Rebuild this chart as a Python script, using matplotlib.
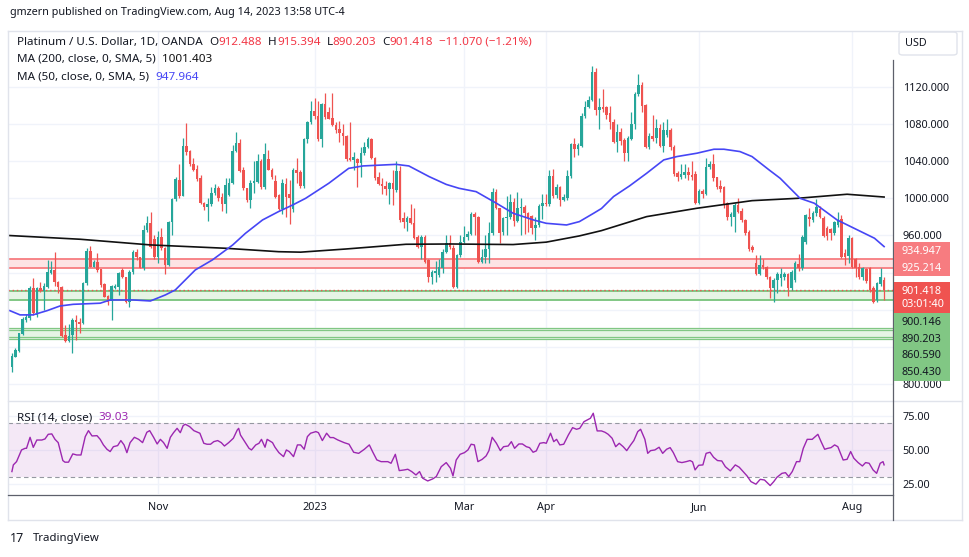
import matplotlib
matplotlib.use("Agg")
import matplotlib.pyplot as plt
from matplotlib.patches import Rectangle, FancyBboxPatch
from matplotlib.lines import Line2D
from matplotlib.ticker import FuncFormatter
import numpy as np
import pandas as pd

plt.rcParams['font.family'] = ['Noto Sans', 'DejaVu Sans']

W, H = 970, 557

# daily candles, XPT/USD (OANDA)
opens = [818.0, 829.5, 835.9, 853.9, 869.0, 870.8, 903.1, 874.4, 903.1, 900.2,
         904.9, 920.0, 922.8, 910.3, 904.2, 852.8, 846.7, 852.8, 869.0, 867.2,
         865.4, 908.5, 943.3, 926.4, 931.8, 923.5, 907.8, 894.8, 889.4, 903.8,
         904.9, 922.8, 914.9, 888.7, 921.0, 942.6, 936.5, 924.6,
         965.9, 973.0, 955.8, 937.2, 958.7, 946.2, 928.2, 974.9, 999.3, 1020.0,
         1003.0, 1056.8, 1051.0, 1036.6, 1031.6, 1022.3, 995.3, 991.0, 993.6, 1005.4,
         1010.8, 1001.0, 993.9, 1004.0, 1016.2, 1051.4, 1060.0, 1031.0, 1010.8, 998.2,
         1016.0, 1018.0, 1040.2, 1011.9, 1042.0, 1031.0, 1019.0, 1003.6, 988.2, 1015.5, 1005.0, 988.0,
         1030.5, 1028.0, 1013.3, 1063.6, 1081.9, 1094.1, 1088.7, 1063.6, 1101.6, 1093.0,
         1087.0, 1079.0, 1074.3, 1070.7, 1067.1, 1043.0, 1041.3,
         1042.0, 1037.7, 1048.5, 1055.7, 1063.6, 1043.1, 1022.6, 1015.5, 1013.3,
         1010.0, 1016.2, 1009.0, 1029.8, 978.5, 974.9, 979.2, 973.8, 958.7, 947.9,
         958.7, 933.6, 915.6, 920.0, 917.4, 924.6, 942.6, 951.6,
         946.2, 904.9, 939.0, 953.4, 958.8, 962.0, 983.2, 979.6, 931.8, 937.2,
         945.1, 962.3, 1007.2, 989.3, 964.0, 978.4, 980.3, 996.5, 976.0, 989.3,
         991.0, 984.6, 981.0, 967.7, 971.3, 992.0, 995.4, 994.0, 1024.1, 1003.6,
         1012.6, 998.2, 1000.0, 1024.1, 1058.6, 1052.9, 1056.5, 1088.8, 1098.8, 1106.0, 1136.5,
         1095.2, 1098.8, 1098.0, 1091.6, 1082.7, 1061.1, 1071.9, 1063.0, 1049.3, 1064.0,
         1080.2, 1112.5, 1122.2, 1100.6, 1055.0, 1067.2, 1064.7, 1075.5, 1056.4, 1068.0,
         1073.7, 1055.0, 1027.7, 1023.4, 1025.0, 1028.8,
         1025.0, 1026.3, 995.4, 1008.3, 1005.0, 1033.5, 1037.0, 1022.7, 1013.0, 1012.6,
         994.7, 979.6, 979.6, 992.5, 986.8, 976.7, 964.0,
         948.0, 930.0, 918.6, 928.2, 926.4, 915.0, 903.1, 912.1, 914.0, 915.0,
         918.6, 903.1, 912.0, 929.3, 924.6, 953.0, 980.3, 976.7, 983.9, 988.2,
         978.5, 967.7, 966.6, 963.0, 971.0, 977.5, 940.8, 938.0, 957.0, 935.0,
         925.7, 915.6, 923.5, 924.6, 903.1, 890.5, 907.8, 912.488]

highs = [833.1, 838.4, 855.3, 872.6, 875.0, 905.0, 913.9, 904.9, 910.0, 908.5,
         933.6, 933.0, 942.6, 911.0, 905.0, 863.6, 864.6, 870.8, 874.4, 870.8,
         910.3, 946.2, 948.7, 933.6, 940.8, 924.2, 908.5, 895.9, 906.7, 908.0,
         921.0, 924.6, 915.6, 922.8, 944.4, 945.1, 937.2, 971.3,
         981.0, 985.0, 960.0, 965.0, 968.0, 948.0, 976.0, 1000.0, 1022.6, 1037.0,
         1065.0, 1081.0, 1052.0, 1043.0, 1036.0, 1025.0, 996.0, 1000.0, 1012.0, 1015.0,
         1013.0, 1006.0, 1022.0, 1022.0, 1057.0, 1071.6, 1064.0, 1034.0, 1011.0, 1020.0,
         1040.0, 1048.0, 1042.0, 1060.0, 1052.0, 1033.0, 1025.0, 1005.0, 1021.0, 1022.0, 1020.0, 1033.0,
         1043.0, 1030.0, 1065.0, 1083.0, 1105.0, 1108.0, 1105.0, 1103.0, 1113.0, 1098.0,
         1113.0, 1082.0, 1083.0, 1080.0, 1068.0, 1082.0, 1050.0,
         1043.0, 1055.0, 1061.0, 1066.0, 1065.0, 1044.0, 1028.0, 1022.0, 1019.0,
         1018.0, 1030.0, 1040.0, 1035.0, 985.0, 981.0, 994.0, 990.0, 960.0, 961.0,
         960.0, 935.0, 923.0, 932.0, 935.0, 945.0, 961.0, 961.0,
         950.0, 940.0, 960.0, 970.0, 965.0, 985.0, 985.0, 981.0, 945.0, 960.0,
         975.0, 1011.0, 1010.0, 990.0, 980.0, 1002.0, 1005.0, 1000.0, 1007.0, 1000.0,
         993.0, 985.0, 982.0, 980.0, 994.0, 1005.0, 1005.0, 1030.0, 1032.0, 1015.0,
         1013.0, 1005.0, 1030.0, 1060.0, 1065.0, 1060.0, 1092.0, 1105.0, 1110.0, 1143.0, 1140.0,
         1108.0, 1118.0, 1100.0, 1100.0, 1085.0, 1080.0, 1076.0, 1065.0, 1067.0, 1093.0,
         1115.0, 1134.0, 1125.0, 1102.0, 1070.0, 1090.0, 1085.0, 1080.0, 1082.0, 1085.0,
         1076.0, 1057.0, 1029.0, 1037.0, 1037.0, 1034.0,
         1040.0, 1029.0, 1010.0, 1010.0, 1043.0, 1040.0, 1048.0, 1023.0, 1020.0, 1013.0,
         996.0, 985.0, 995.0, 1000.0, 990.0, 978.0, 966.0,
         950.0, 939.0, 939.0, 935.0, 927.0, 916.0, 914.0, 921.0, 925.0, 921.0,
         920.0, 923.0, 932.0, 940.0, 960.0, 983.0, 990.0, 986.0, 999.0, 992.0,
         981.0, 970.0, 968.0, 976.0, 985.0, 982.0, 945.0, 960.0, 958.0, 936.0,
         930.0, 926.0, 925.0, 926.0, 905.0, 910.0, 925.0, 915.394]

lows = [813.3, 828.7, 834.9, 852.8, 867.0, 869.0, 874.4, 872.0, 899.5, 879.7,
        903.1, 919.0, 906.0, 897.7, 851.0, 845.6, 845.0, 833.8, 847.4, 855.0,
        865.0, 907.0, 926.0, 926.0, 921.0, 904.9, 893.4, 885.1, 869.0, 902.0,
        895.9, 913.9, 887.0, 882.6, 919.0, 933.6, 924.6, 923.0,
        964.0, 946.0, 935.0, 930.0, 944.0, 919.0, 927.0, 960.0, 997.0, 1000.0,
        1002.0, 1047.0, 1035.0, 1029.0, 1019.0, 994.0, 987.0, 976.0, 992.0, 1004.0,
        997.0, 986.0, 984.0, 1003.0, 1015.0, 1050.0, 1028.0, 1009.0, 996.0, 990.0,
        1006.0, 1017.0, 1010.0, 1010.0, 1030.0, 1021.0, 1000.0, 987.0, 983.0, 980.0, 972.0, 985.0,
        1016.0, 1011.0, 1011.0, 1060.0, 1080.0, 1086.0, 1062.0, 1055.0, 1086.0, 1085.0,
        1078.0, 1070.0, 1061.0, 1058.0, 1040.0, 1040.0, 1030.0,
        1012.4, 1023.0, 1047.0, 1054.0, 1042.0, 1020.0, 1014.0, 1005.0, 1004.0,
        994.0, 993.0, 1007.0, 975.0, 968.0, 965.0, 972.0, 956.0, 946.0, 935.0,
        930.0, 910.0, 908.0, 910.0, 915.0, 920.0, 941.0, 945.0,
        903.0, 903.0, 937.0, 952.0, 955.0, 960.0, 960.0, 930.0, 930.0, 930.0,
        930.0, 960.0, 988.0, 952.0, 961.0, 960.0, 978.0, 970.0, 974.0, 960.0,
        962.0, 964.0, 962.0, 955.0, 969.0, 978.0, 992.0, 992.0, 1000.0, 1000.0,
        992.0, 997.0, 998.0, 1022.0, 1045.0, 1047.0, 1055.0, 1087.0, 1097.0, 1105.0, 1090.0,
        1075.0, 1093.0, 1085.0, 1075.0, 1060.0, 1050.0, 1058.0, 1040.0, 1040.0, 1063.0,
        1075.0, 1110.0, 1093.0, 1054.0, 1053.0, 1062.0, 1060.0, 1055.0, 1050.0, 1066.0,
        1052.0, 1024.0, 1019.0, 1021.0, 1022.0, 1020.0,
        1020.0, 994.0, 994.0, 1000.0, 1004.0, 1032.0, 1019.0, 1010.0, 1007.0, 990.0,
        977.0, 970.0, 964.0, 984.0, 975.0, 961.0, 943.0,
        942.0, 917.0, 917.0, 924.0, 913.0, 893.0, 888.0, 898.0, 905.0, 912.0,
        895.0, 901.0, 910.0, 922.0, 923.0, 951.0, 970.0, 975.0, 981.0, 979.0,
        958.0, 955.0, 955.0, 961.0, 969.0, 936.0, 928.0, 930.0, 925.0, 915.0,
        913.0, 912.0, 909.0, 899.0, 887.0, 888.0, 906.0, 890.203]

closes = [830.2, 836.7, 854.6, 870.0, 872.6, 903.1, 876.1, 903.1, 900.2, 905.6,
          921.0, 922.8, 910.3, 904.2, 852.1, 846.7, 852.0, 869.0, 867.2, 864.6,
          908.5, 943.3, 926.4, 931.1, 922.8, 906.7, 894.1, 888.7, 905.6, 905.6,
          919.2, 914.9, 888.0, 921.0, 942.6, 936.5, 925.3, 965.9,
          973.0, 947.9, 937.2, 958.7, 946.2, 928.2, 974.9, 999.3, 1020.8, 1003.0,
          1056.8, 1050.3, 1036.6, 1030.5, 1020.8, 995.3, 991.0, 993.6, 1005.4, 1011.5,
          1000.0, 993.9, 1014.4, 1016.2, 1051.4, 1060.0, 1029.8, 1010.8, 998.2, 1016.2,
          1019.0, 1040.2, 1011.9, 1047.8, 1031.0, 1023.4, 1001.8, 988.2, 1016.2, 1001.8, 1000.0, 1030.5,
          1027.0, 1013.3, 1063.6, 1081.9, 1094.1, 1088.7, 1063.6, 1101.6, 1087.3, 1086.0,
          1079.0, 1073.6, 1070.0, 1067.0, 1042.0, 1041.3, 1044.0,
          1037.7, 1048.5, 1055.7, 1063.6, 1043.1, 1021.6, 1015.5, 1013.3, 1010.0,
          1016.2, 1009.7, 1029.8, 976.7, 974.9, 979.2, 973.8, 957.6, 947.9, 958.7,
          931.8, 915.6, 921.0, 921.7, 926.4, 942.6, 951.6, 948.0,
          904.9, 939.0, 953.4, 958.8, 962.0, 983.2, 979.6, 931.8, 937.2, 945.1,
          962.3, 1007.2, 989.3, 962.3, 978.4, 980.3, 996.5, 976.0, 989.3, 991.0,
          984.6, 978.5, 967.7, 971.3, 992.2, 995.4, 994.0, 1024.1, 1002.6, 1012.6,
          998.2, 1001.8, 1024.1, 1058.6, 1052.9, 1057.5, 1088.8, 1098.8, 1106.0, 1136.5, 1095.2,
          1098.8, 1096.0, 1090.0, 1082.7, 1061.1, 1071.9, 1061.8, 1049.3, 1064.7, 1080.2,
          1112.5, 1122.2, 1099.5, 1055.0, 1067.2, 1064.3, 1075.5, 1056.4, 1073.7, 1073.7,
          1055.0, 1026.3, 1022.7, 1026.0, 1028.8, 1025.0,
          1022.7, 995.4, 1008.3, 1004.7, 1033.5, 1037.0, 1021.6, 1012.6, 1009.7, 992.9,
          979.6, 983.0, 992.5, 985.7, 976.7, 963.0, 945.0,
          944.4, 918.6, 928.2, 925.8, 915.0, 903.1, 912.1, 918.6, 919.0, 918.6,
          903.1, 921.0, 930.0, 924.6, 958.7, 982.1, 977.5, 983.9, 990.4, 980.3,
          959.5, 959.5, 963.0, 974.9, 976.7, 937.2, 936.5, 957.0, 926.4, 924.6,
          915.0, 924.6, 911.4, 901.3, 888.7, 908.5, 914.9, 901.418]

# moving averages, sampled along the chart (x = candle number)
ma200_pos = [-1.1, 19.2, 38.9, 60.0, 74.9, 81.1, 93.8, 110.7, 123.4, 140.8,
             150.1, 159.4, 165.6, 178.3, 192.4, 207.9, 220.6, 234.6, 245]
ma200_val = [960.0, 955.9, 949.8, 946.2, 942.5, 942.0, 945.4, 950.5, 950.8, 950.2,
             952.8, 959.5, 965.2, 980.3, 989.3, 997.5, 1000.0, 1004.4, 1001.4]

ma50_pos = [-0.6, 2.3, 5.9, 9.9, 13.5, 17.2, 24.8, 27.6, 34.1, 38.9,
            43.1, 45.9, 51.5, 56.3, 62.0, 65.6, 70.4, 74.9, 78.9, 82.5,
            89.0, 94.6, 98.6, 107.9, 111.5, 117.2, 122.0, 125.6, 130.4, 136.1,
            140.8, 146.5, 150.1, 155.8, 159.4, 163.4, 165.6, 169.0, 173.5, 178.3,
            183.1, 186.8, 192.4, 197.2, 200.0, 204.5, 207.9, 212.7, 215.8, 221.4,
            225.4, 231.8, 237.5, 242.3, 245]
ma50_val = [879, 874.4, 874.4, 879, 884, 885.8, 887, 890.5, 890.5, 889.4,
            895.9, 901.3, 922.8, 933.6, 949.7, 962.3, 976.7, 985.7, 992.9, 1000,
            1016.2, 1032.3, 1034.9, 1036.6, 1034.9, 1023.4, 1015, 1010.8, 1007.2, 994.7,
            983.9, 976.7, 973.1, 971.3, 974.9, 983.9, 989, 1001.9, 1013.4, 1027,
            1041.4, 1045, 1048.6, 1052.9, 1052.9, 1050.4, 1045, 1030.6, 1021.6, 1000,
            994.7, 976.7, 966, 957, 948.0]

# RSI(14)
rsi_pos = [0, 0.4, 1.3, 2.7, 3.7, 4.1, 5.1, 6.0, 7.0, 8.4, 9.3, 10.2, 11.2, 12.1, 13.0,
           14.3, 14.9, 15.9, 17.1, 18.2, 19.4, 20.6, 21.5, 22.5, 23.9, 24.8, 25.7, 26.7,
           27.6, 28.5, 29.7, 30.6, 31.5, 32.3, 33.2, 34.4, 35.6, 36.7, 37.9, 38.7, 39.8,
           40.8, 41.7, 42.6, 43.6, 44.5, 45.4, 46.4, 47.3, 48.1, 48.7, 49.9, 51.1, 52.8,
           53.9, 54.8, 55.8, 56.7, 57.8, 58.8, 59.7, 60.9, 62.2, 63.3, 63.7, 64.2, 65.4,
           66.6, 67.3, 68.5, 69.4, 70.1, 71.1, 71.7, 73.2, 73.9, 75.0, 76.3, 77.1, 77.9,
           79.1, 80.2, 81.1, 82.1, 83.0, 83.9, 85.4, 86.1, 87.2, 88.4, 89.4, 90.3, 91.5,
           93.3, 94.7, 96.0, 97.4, 99.0, 100.4, 101.3, 102.5, 103.7, 105.6, 106.5, 107.7,
           108.8, 110.2, 111.2, 112.3, 113.5, 114.5, 115.4, 116.8, 118.2, 119.2, 120.6,
           122.0, 123.2, 123.9, 124.8, 125.9, 127.1, 128.1, 129.0, 129.9, 130.9, 132.1,
           133.2, 134.0, 134.9, 136.1, 137.2, 138.1, 139.4, 140.3, 141.2, 142.4, 143.4,
           144.5, 145.4, 146.4, 147.3, 148.3, 149.4, 150.1, 151.3, 152.2, 153.0, 153.9,
           155.0, 156.3, 157.5, 158.6, 159.5, 160.7, 161.9, 162.5, 163.3, 164.4, 165.6,
           166.6, 167.5, 168.6, 169.6, 170.6, 171.7, 172.7, 173.8, 174.7, 175.8, 176.6,
           177.8, 178.6, 179.4, 180.6, 181.8, 182.8, 183.9, 184.9, 185.8, 187.0, 188.2,
           189.4, 190.5, 191.2, 191.9, 192.9, 194.1, 195.0, 196.1, 197.1, 198.2, 199.4,
           200.4, 201.8, 203.2, 204.3, 205.4, 206.5, 207.6, 209.0, 210.2, 211.4, 213.0,
           214.0, 214.9, 216.3, 217.3, 218.2, 219.2, 220.4, 221.3, 222.3, 223.4, 224.8,
           226.4, 227.3, 228.3, 229.2, 230.1, 231.1, 232.0, 233.5, 234.6, 235.6, 236.5,
           237.7, 238.9, 239.8, 240.8, 241.9, 242.9, 243.9, 244.7, 245.0]
rsi_val = [34.1, 39.0, 41.4, 50.0, 51.2, 51.2, 59.3, 51.9, 57.3, 57.3, 58.1, 61.5, 61.8, 57.8, 55.4,
           42.2, 41.0, 41.0, 47.1, 46.3, 46.3, 59.8, 64.2, 60.3, 60.5, 57.8, 53.7, 50.5,
           48.8, 52.4, 53.2, 56.9, 53.7, 48.0, 55.4, 59.3, 57.8, 55.4, 63.0, 64.2, 59.3,
           54.4, 57.8, 55.4, 51.2, 59.3, 62.7, 65.9, 62.7, 67.9, 68.9, 67.2, 64.2, 62.3,
           54.9, 54.2, 54.2, 56.1, 56.9, 55.4, 52.9, 55.4, 58.6, 64.7, 65.9, 61.0, 56.1,
           51.2, 50.0, 53.7, 54.9, 57.8, 52.0, 57.8, 55.4, 52.0, 48.0, 45.1, 50.0, 48.8,
           45.1, 53.7, 53.7, 50.5, 59.8, 62.3, 63.5, 62.7, 56.9, 62.3, 59.1, 59.1, 57.4,
           55.4, 54.2, 48.3, 47.5, 50.5, 53.7, 48.8, 42.7, 41.4, 41.4, 40.2, 46.8,
           34.8, 35.3, 35.8, 34.1, 31.6, 34.1, 29.2, 27.2, 28.7, 30.4, 37.7,
           40.7, 36.5, 30.9, 42.6, 46.8, 48.0, 50.0, 54.2, 53.7, 41.4, 43.1,
           45.6, 49.5, 59.3, 54.9, 49.5, 52.4, 52.9, 56.1, 51.2, 54.4, 54.4,
           52.4, 51.7, 48.3, 49.3, 54.9, 55.4, 54.9, 62.3, 56.1, 57.8, 53.7,
           54.2, 61.0, 66.4, 65.2, 65.9, 70.8, 72.5, 73.3, 77.0, 64.0, 64.0,
           63.0, 61.5, 58.6, 52.4, 54.9, 52.4, 49.5, 53.7, 56.9, 63.5, 65.2,
           57.8, 47.5, 49.5, 50.0, 52.0, 47.5, 50.5, 51.7, 48.0, 41.4, 40.7,
           41.4, 42.2, 41.2, 35.3, 38.7, 39.0, 47.5, 48.3, 44.6, 42.2, 41.9,
           37.7, 34.6, 39.0, 37.3, 34.1, 30.9, 26.7, 24.8, 28.4, 27.9, 23.8,
           26.7, 29.9, 32.8, 33.3, 30.4, 34.1, 41.4, 41.4, 51.2, 57.8, 57.8,
           61.5, 56.1, 50.5, 51.2, 51.7, 53.7, 52.4, 42.6, 43.1, 48.8, 43.9,
           40.7, 38.2, 40.7, 40.2, 35.3, 32.8, 40.2, 41.4, 39.03]

# horizontal zones / levels drawn on the chart
red_zone = [925.214, 934.947]
green_zone = [890.203, 900.146]
green_zone_low = [850.430, 860.590]
green_zone_low2 = [848.5, 858.2]
last_price = 901.418

# price scale labels hidden behind the level tags on the axis
hidden_ticks = [840, 880, 920]

tick_months = ["2022-11", "2023-01", "2023-03", "2023-04", "2023-06", "2023-08"]
tick_labels = ["Nov", "2023", "Mar", "Apr", "Jun", "Aug"]

n = len(closes)
assert len(opens) == n and len(highs) == n and len(lows) == n, (len(opens), len(highs), len(lows), n)
assert len(rsi_pos) == len(rsi_val), (len(rsi_pos), len(rsi_val))
assert len(ma50_pos) == len(ma50_val) and len(ma200_pos) == len(ma200_val)

dates = pd.bdate_range(end="2023-08-14", periods=n)
month_idx = [int(np.argmax(dates >= pd.Timestamp(m + "-01"))) for m in tick_months]

UP, DOWN = "#26a69a", "#ef5350"
TXT = "#131722"
GRID = "#f0f3fa"
FRAME = "#e0e3eb"
AXLINE = "#5d606b"


def fx(px):
    return px / W


def fy(py):
    return 1 - py / H


fig = plt.figure(figsize=(W / 100, H / 100), dpi=100)
fig.patch.set_facecolor("white")

ax = fig.add_axes([fx(8), fy(400), (893 - 8) / W, (400 - 31) / H])
ax_rsi = fig.add_axes([fx(8), fy(494), (893 - 8) / W, (494 - 401) / H])

# ---- price panel
x = np.arange(n)
o = np.array(opens)
c = np.array(closes)
hi = np.array(highs)
lo = np.array(lows)
cols = np.where(c >= o, UP, DOWN)

ax.axhspan(*red_zone, color="#fde3e4", lw=0, zorder=1)
for v in red_zone:
    ax.axhline(v, color="#f77c80", lw=1.3, zorder=2)
ax.axhspan(*green_zone, color="#e6f4e5", lw=0, zorder=1)
for v in green_zone:
    ax.axhline(v, color="#81c784", lw=1.4, zorder=2)
for z in (green_zone_low, green_zone_low2):
    ax.axhspan(*z, color="#e6f4e5", lw=0, zorder=1)
    for v in z:
        ax.axhline(v, color="#81c784", lw=0.9, zorder=2)
ax.axhline(last_price, color=DOWN, lw=1.0, ls=(0, (1, 2)), zorder=2)

ax.vlines(x, lo, hi, colors=cols, lw=0.9, zorder=3)
ax.bar(x, np.maximum(np.abs(c - o), 0.8), bottom=np.minimum(o, c), width=0.72,
       color=cols, lw=0, zorder=4)

ax.plot(ma200_pos, ma200_val, color="#111111", lw=1.2, zorder=5)
ax.plot(ma50_pos, ma50_val, color="#4646f5", lw=1.2, zorder=5)

ax.set_xlim(-1.1, 247.5)
ax.set_ylim(782.7, 1180.3)
ax.set_yticks(np.arange(800, 1121, 40))
ax.yaxis.set_major_formatter(FuncFormatter(
    lambda v, _: "" if round(v) in hidden_ticks else f"{v:.3f}"))
ax.yaxis.tick_right()
ax.tick_params(axis="y", length=0, pad=7, labelsize=7.8, labelcolor=TXT)
ax.set_xticks(month_idx)
ax.tick_params(axis="x", length=0, labelbottom=False)
ax.grid(True, color=GRID, lw=1, zorder=0)
ax.set_axisbelow(True)
for s in ax.spines.values():
    s.set_visible(False)

# ---- RSI panel
ax_rsi.axhspan(30, 70, color="#9c27b0", alpha=0.1, lw=0)
ax_rsi.axhline(70, color="#9598a1", lw=0.8, ls=(0, (4, 3)))
ax_rsi.axhline(30, color="#9598a1", lw=0.8, ls=(0, (4, 3)))
ax_rsi.plot(rsi_pos, rsi_val, color="#9c27b0", lw=1.0, zorder=4)
ax_rsi.set_xlim(-1.1, 247.5)
ax_rsi.set_ylim(17.6, 86.0)
ax_rsi.set_yticks([25, 50, 75])
ax_rsi.yaxis.set_major_formatter(FuncFormatter(lambda v, _: f"{v:.2f}"))
ax_rsi.yaxis.tick_right()
ax_rsi.tick_params(axis="y", length=0, pad=7, labelsize=7.8, labelcolor=TXT)
ax_rsi.set_xticks(month_idx)
ax_rsi.set_xticklabels(tick_labels)
ax_rsi.tick_params(axis="x", length=0, pad=6, labelsize=7.8, labelcolor=TXT)
ax_rsi.grid(True, color=GRID, lw=1, zorder=0)
ax_rsi.set_axisbelow(True)
for s in ax_rsi.spines.values():
    s.set_visible(False)

# ---- frame lines
def hline(y, x0, x1, color, lw=1.0):
    fig.add_artist(Line2D([fx(x0), fx(x1)], [fy(y), fy(y)], color=color, lw=lw))


def vline(xp, y0, y1, color, lw=1.0):
    fig.add_artist(Line2D([fx(xp), fx(xp)], [fy(y0), fy(y1)], color=color, lw=lw))


hline(30.5, 8.5, 962, FRAME)
hline(520, 8.5, 962, FRAME)
vline(8.5, 30.5, 520, FRAME)
vline(962, 30.5, 520, FRAME)
hline(401, 8.5, 962, FRAME)
hline(494.5, 8.5, 893.5, AXLINE, 0.9)
vline(893.5, 60, 520, AXLINE, 0.9)

# USD button
fig.add_artist(FancyBboxPatch((fx(899), fy(55)), (957 - 899) / W, 23 / H,
                              boxstyle="round,pad=0,rounding_size=0.004",
                              transform=fig.transFigure, fc="white", ec=FRAME, lw=1))
fig.text(fx(905), fy(43.5), "USD", fontsize=7.8, color=TXT, va="center", ha="left")

# price tags on the axis
def axis_box(y0, y1, color):
    fig.add_artist(Rectangle((fx(894), fy(y1)), (950 - 894) / W, (y1 - y0) / H,
                             transform=fig.transFigure, fc=color, ec="none", zorder=3))


axis_box(242.3, 276, "#f77c80")
axis_box(282.3, 312.7, "#ef5350")
axis_box(313.3, 380.7, "#81c784")
for yy, s in [(251.7, "934.947"), (268.3, "925.214"), (291.7, "901.418"), (304.3, "03:01:40")]:
    fig.text(fx(902), fy(yy), s, fontsize=7.8, color="white", fontweight="bold",
             va="center", ha="left", zorder=4)
for yy, s in [(322.3, "900.146"), (339.0, "890.203"), (355.7, "860.590"), (372.3, "850.430")]:
    fig.text(fx(902), fy(yy), s, fontsize=7.8, color=TXT, va="center", ha="left", zorder=4)

# ---- texts
renderer = fig.canvas.get_renderer()


def text_row(xp, yp, parts, size=8.4):
    for s, col, gap in parts:
        t = fig.text(fx(xp), fy(yp), s, color=col, fontsize=size, ha="left", va="center")
        xp = t.get_window_extent(renderer).x1 + gap


RED = "#f23645"
fig.text(fx(10), fy(13), "gmzern published on TradingView.com, Aug 14, 2023 13:58 UTC-4",
         fontsize=7.8, color=TXT, va="center", ha="left")
text_row(17, 42.5, [("Platinum / U.S. Dollar, 1D, OANDA", TXT, 7), ("O", TXT, 0),
                    ("912.488", RED, 6), ("H", TXT, 0), ("915.394", RED, 6),
                    ("L", TXT, 0), ("890.203", RED, 6), ("C", TXT, 0), ("901.418", RED, 6),
                    ("\u221211.070 (\u22121.21%)", RED, 0)])
text_row(17, 59, [("MA (200, close, 0, SMA, 5)", TXT, 6), ("1001.403", "#111111", 0)])
text_row(17, 77, [("MA (50, close, 0, SMA, 5)", TXT, 6), ("947.964", "#4646f5", 0)])
text_row(17, 418, [("RSI (14, close)", TXT, 6), ("39.03", "#9c27b0", 0)])

fig.text(fx(10), fy(538), "17", fontsize=9, fontweight="black", color=TXT,
         va="center", ha="left")
fig.text(fx(33), fy(538), "TradingView", fontsize=8.2, color=TXT, va="center", ha="left")

fig.savefig("out.png", dpi=100, facecolor="white")
